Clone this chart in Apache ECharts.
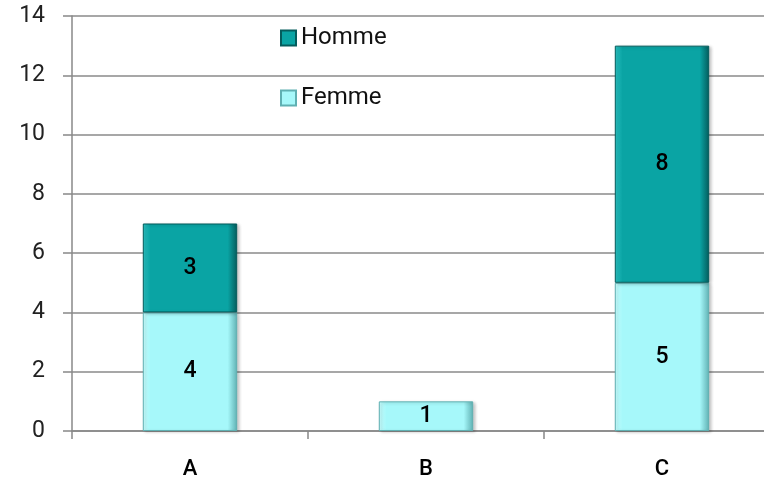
<!DOCTYPE html>
<html><head><meta charset="utf-8">
<script src="https://cdn.jsdelivr.net/npm/echarts@6/dist/echarts.min.js"></script>
<style>html,body{margin:0;padding:0;background:#fff;overflow:hidden}#c{width:764px;height:482px}</style>
</head><body><div id="c"></div>
<script>
var categories = ['A', 'B', 'C'];
var femme = [4, 1, 5];
var homme = [3, null, 8];
var yTicks = [0, 2, 4, 6, 8, 10, 12, 14];

var chart = echarts.init(document.getElementById('c'));
var font = 'Roboto';
function bevel(base, light, dark) {
  return {
    color: new echarts.graphic.LinearGradient(0, 0, 1, 0, [
      { offset: 0, color: light },
      { offset: 0.08, color: base },
      { offset: 0.9, color: base },
      { offset: 1, color: dark }
    ]),
    borderColor: dark,
    borderWidth: 1,
    shadowColor: 'rgba(0,0,0,0.2)',
    shadowBlur: 3,
    shadowOffsetX: 2,
    shadowOffsetY: 1
  };
}
chart.setOption({
  backgroundColor: '#ffffff',
  animation: false,
  grid: { left: 72, top: 16, width: 708, height: 415, outerBoundsMode: 'none', containLabel: false },
  legend: {
    orient: 'vertical',
    left: 275, top: 21,
    itemGap: 36,
    itemWidth: 15, itemHeight: 15,
    icon: 'rect',
    data: ['Homme', 'Femme'],
    textStyle: { fontFamily: font, fontSize: 24, color: '#111' }
  },
  xAxis: {
    type: 'category',
    data: categories,
    axisLine: { lineStyle: { color: '#888', width: 1.5 } },
    axisTick: { show: true, length: 8, lineStyle: { color: '#888', width: 1.5 } },
    axisLabel: { fontFamily: font, fontSize: 22, fontWeight: 500, color: '#000', margin: 27 }
  },
  yAxis: {
    type: 'value',
    min: yTicks[0], max: yTicks[yTicks.length - 1], interval: 2,
    axisLine: { show: true, lineStyle: { color: '#888', width: 1.5 } },
    axisTick: { show: true, length: 9, lineStyle: { color: '#888', width: 1.5 } },
    splitLine: { lineStyle: { color: '#8a8a8a', width: 1.5 } },
    axisLabel: { fontFamily: font, fontSize: 23, color: '#222', margin: 27 }
  },
  series: [
    {
      name: 'Femme', type: 'bar', stack: 's', data: femme, barWidth: '40%',
      itemStyle: bevel('#a6f8fa', '#c8ffff', '#5fb0b2'),
      label: { show: true, position: 'inside', fontFamily: font, fontSize: 23, color: '#000', fontWeight: 500 }
    },
    {
      name: 'Homme', type: 'bar', stack: 's', data: homme, barWidth: '40%',
      itemStyle: bevel('#0aa4a4', '#2cc4c4', '#045c5c'),
      label: { show: true, position: 'inside', fontFamily: font, fontSize: 23, color: '#000', fontWeight: 500 }
    }
  ]
});
</script></body></html>
